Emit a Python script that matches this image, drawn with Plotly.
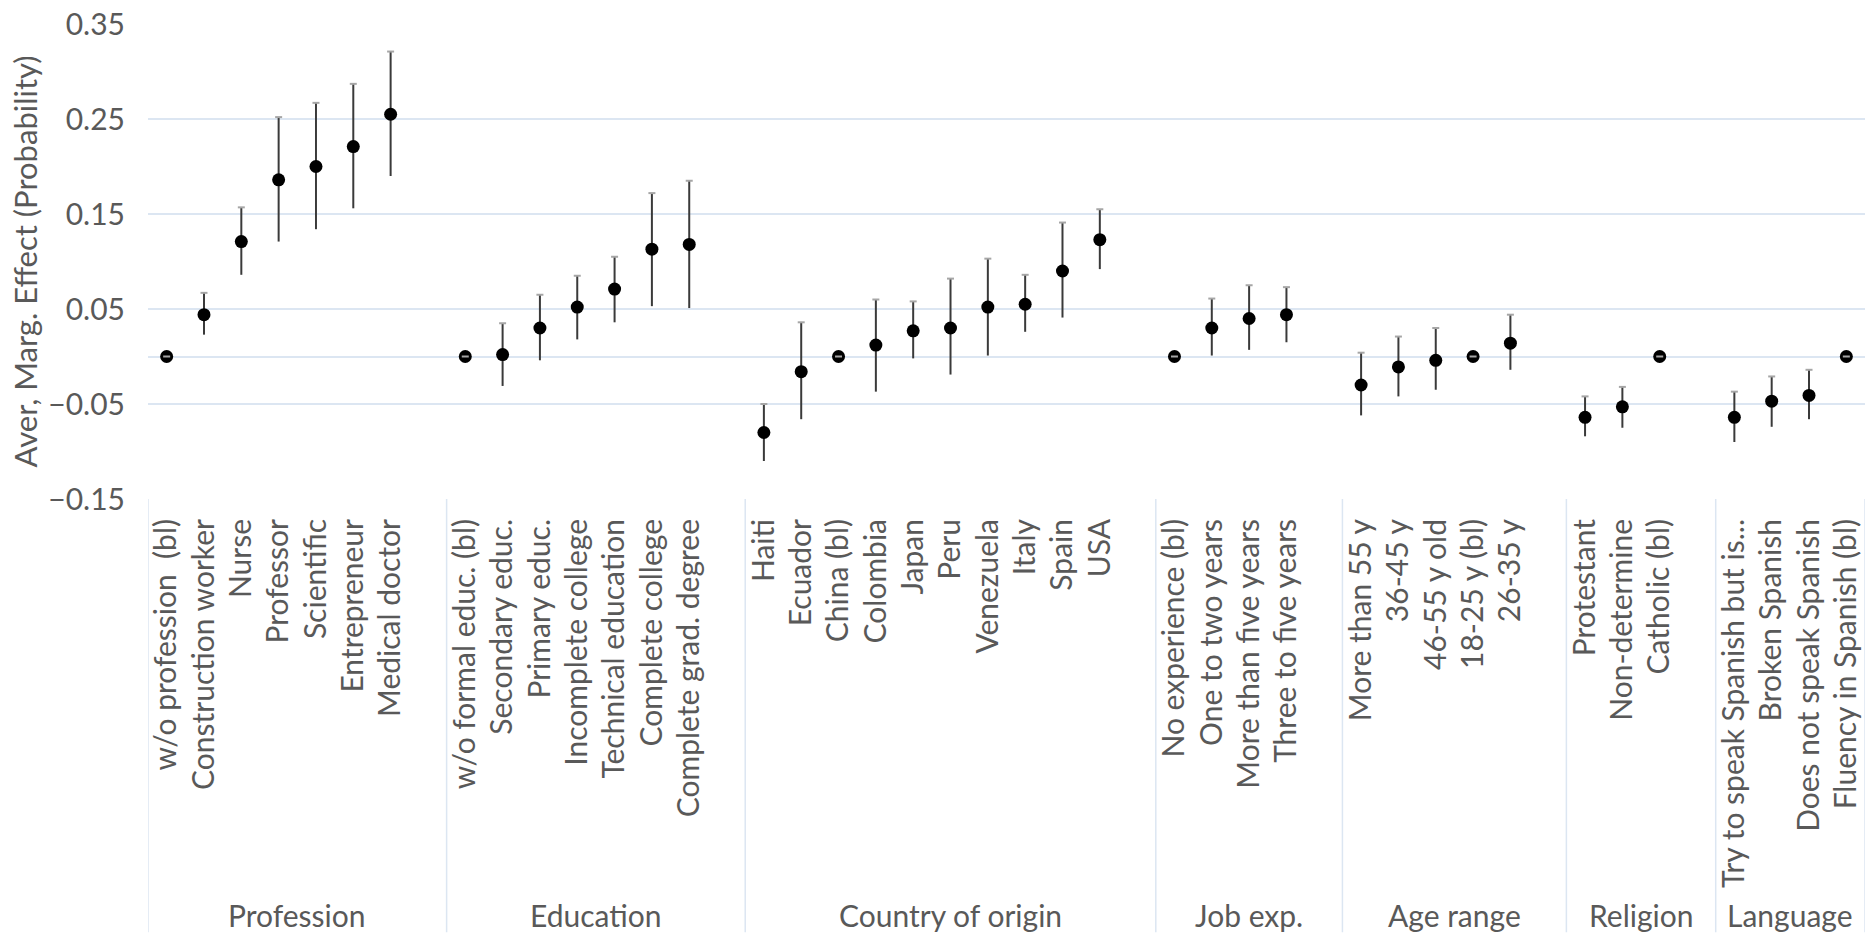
import plotly.graph_objects as go

# ---- data -------------------------------------------------------------
groups = ["Profession", "Education", "Country of origin", "Job exp.",
          "Age range", "Religion", "Language"]

profession_labels = ["w/o profession\u00a0 (bl)", "Construction worker", "Nurse",
                     "Professor", "Scientific", "Entrepreneur", "Medical doctor"]
profession_est = [0, 0.044, 0.121, 0.186, 0.200, 0.221, 0.255]
profession_lo = [0, 0.023, 0.086, 0.121, 0.134, 0.156, 0.190]
profession_hi = [0, 0.067, 0.157, 0.252, 0.267, 0.287, 0.321]

education_labels = ["w/o formal educ. (bl)", "Secondary educ.", "Primary educ.",
                    "Incomplete college", "Technical education",
                    "Complete college", "Complete grad. degree"]
education_est = [0, 0.002, 0.030, 0.052, 0.071, 0.113, 0.118]
education_lo = [0, -0.031, -0.004, 0.018, 0.036, 0.053, 0.051]
education_hi = [0, 0.035, 0.065, 0.085, 0.105, 0.172, 0.185]

country_labels = ["Haiti", "Ecuador", "China (bl)", "Colombia", "Japan", "Peru",
                  "Venezuela", "Italy", "Spain", "USA"]
country_est = [-0.080, -0.016, 0, 0.012, 0.027, 0.030, 0.052, 0.055, 0.090, 0.123]
country_lo = [-0.110, -0.066, 0, -0.037, -0.002, -0.019, 0.001, 0.026, 0.041, 0.092]
country_hi = [-0.050, 0.036, 0, 0.060, 0.058, 0.082, 0.103, 0.086, 0.141, 0.155]

job_labels = ["No experience (bl)", "One to two years", "More than five years",
              "Three to five years"]
job_est = [0, 0.030, 0.040, 0.044]
job_lo = [0, 0.001, 0.007, 0.015]
job_hi = [0, 0.061, 0.075, 0.073]

age_labels = ["More than 55 y", "36-45 y", "46-55 y old", "18-25 y (bl)", "26-35 y"]
age_est = [-0.030, -0.011, -0.004, 0, 0.014]
age_lo = [-0.062, -0.042, -0.035, 0, -0.014]
age_hi = [0.004, 0.021, 0.030, 0, 0.044]

religion_labels = ["Protestant", "Non-determine", "Catholic (bl)"]
religion_est = [-0.064, -0.053, 0]
religion_lo = [-0.084, -0.075, 0]
religion_hi = [-0.042, -0.032, 0]

language_labels = ["Try to speak Spanish but is...", "Broken Spanish",
                   "Does not speak Spanish", "Fluency in Spanish (bl)"]
language_est = [-0.064, -0.047, -0.041, 0]
language_lo = [-0.090, -0.074, -0.066, 0]
language_hi = [-0.037, -0.021, -0.014, 0]

y_ticks = [-0.15, -0.05, 0.05, 0.15, 0.25, 0.35]

# ---- layout of category slots (one empty slot closes each group) ------
group_data = [
    (profession_labels, profession_est, profession_lo, profession_hi, 1),
    (education_labels, education_est, education_lo, education_hi, 1),
    (country_labels, country_est, country_lo, country_hi, 1),
    (job_labels, job_est, job_lo, job_hi, 1),
    (age_labels, age_est, age_lo, age_hi, 1),
    (religion_labels, religion_est, religion_lo, religion_hi, 1),
    (language_labels, language_est, language_lo, language_hi, 0),
]

xs, labels, est, err_plus, err_minus, hi_all = [], [], [], [], [], []
bounds = [0]
group_centers = []
pos = 0
for lab, e, lo, hi, gap in group_data:
    start = pos
    for i in range(len(lab)):
        xs.append(pos + 0.5)
        labels.append(lab[i])
        est.append(e[i])
        err_plus.append(hi[i] - e[i])
        err_minus.append(e[i] - lo[i])
        hi_all.append(hi[i])
        pos += 1
    pos += gap
    bounds.append(pos)
    group_centers.append((start + pos) / 2)
n_slots = pos

FONT = "Lato, 'Open Sans', sans-serif"
FS = 30
TXT = "#595959"
GRID = "#DCE6F2"

fig = go.Figure()

# point estimates with confidence intervals
fig.add_trace(go.Scatter(
    x=xs, y=est, mode="markers",
    marker=dict(color="black", size=13),
    error_y=dict(type="data", symmetric=False, array=err_plus,
                 arrayminus=err_minus, color="#3a3a3a", thickness=2, width=0),
    showlegend=False, hoverinfo="skip",
))
# small caps at the top of each interval
fig.add_trace(go.Scatter(
    x=xs, y=hi_all, mode="markers",
    marker=dict(symbol="line-ew", size=5, color="#a6a6a6",
                line=dict(color="#a6a6a6", width=2)),
    showlegend=False, hoverinfo="skip",
))

# group dividers below the axis
plot_h = 936 - 20 - 437
bottom = -(437) / plot_h
for b in bounds:
    fig.add_shape(type="line", xref="x", yref="paper", x0=b, x1=b,
                  y0=0, y1=bottom, line=dict(color=GRID, width=1.5))

# group names
for g, c in zip(groups, group_centers):
    fig.add_annotation(x=c, y=-(919 - 499) / plot_h, xref="x", yref="paper",
                       text=g, showarrow=False, yanchor="middle",
                       font=dict(family=FONT, size=FS, color=TXT))

# y-axis title
fig.add_annotation(x=-(148 - 24) / (1865 - 148), y=0.5, xref="paper", yref="paper",
                   text="Aver, Marg. Effect (Probability)", textangle=-90,
                   showarrow=False, xanchor="center", yanchor="middle",
                   font=dict(family=FONT, size=FS + 1, color=TXT))

fig.update_layout(
    width=1869, height=936,
    margin=dict(l=148, r=4, t=20, b=437),
    plot_bgcolor="white", paper_bgcolor="white",
    font=dict(family=FONT, size=FS, color=TXT),
    xaxis=dict(range=[0, n_slots], tickvals=xs, ticktext=labels, tickangle=-90,
               showgrid=False, zeroline=False, showline=False, ticks="",
               ticklabelstandoff=13, tickfont=dict(family=FONT, size=FS, color=TXT),
               fixedrange=True),
    yaxis=dict(range=[-0.15, 0.35], tickvals=y_ticks, tickformat=".2f",
               showgrid=True, gridcolor=GRID, gridwidth=1.5,
               zeroline=True, zerolinecolor=GRID, zerolinewidth=1.5,
               showline=False, ticks="", ticklabelstandoff=22,
               ticklabeloverflow="allow",
               tickfont=dict(family=FONT, size=FS, color=TXT), fixedrange=True),
)

fig.write_html("out.html")
